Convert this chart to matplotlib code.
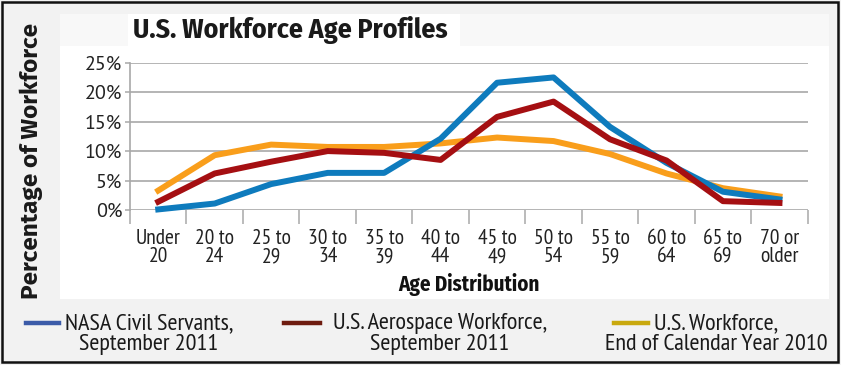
import matplotlib
matplotlib.use("Agg")
import matplotlib.pyplot as plt
from matplotlib.patches import Rectangle
from matplotlib.lines import Line2D
from matplotlib.ticker import FixedLocator

#DATA=======
categories = ["Under\n20", "20 to\n24", "25 to\n29", "30 to\n34", "35 to\n39", "40 to\n44",
              "45 to\n49", "50 to\n54", "55 to\n59", "60 to\n64", "65 to\n69", "70 or\nolder"]
nasa = [0.1, 1.1, 4.4, 6.3, 6.3, 12.1, 21.6, 22.5, 14.1, 8.0, 3.1, 1.8]
aero = [1.4, 6.2, 8.2, 10.0, 9.7, 8.5, 15.8, 18.4, 12.0, 8.4, 1.5, 1.2]
uswf = [3.3, 9.3, 11.1, 10.7, 10.7, 11.3, 12.3, 11.7, 9.5, 6.2, 3.7, 2.3]
yticks = [0, 5, 10, 15, 20, 25]
ytick_labels = ["0%", "5%", "10%", "15%", "20%", "25%"]
series_labels = ["NASA Civil Servants,\nSeptember 2011",
                 "U.S. Aerospace Workforce,\nSeptember 2011",
                 "U.S. Workforce,\nEnd of Calendar Year 2010"]
#===========

W, H = 841, 365
line_colors = ["#0e7bbd", "#a50f12", "#f99e1b"]
key_colors = ["#3b5ba8", "#6e1c10", "#c9a90e"]
grid_col = "#a8a8a8"
narrow = ["PT Sans Narrow", "DejaVu Sans"]
regular = ["PT Sans", "DejaVu Sans"]
bold_cond = ["Fira Sans Condensed", "DejaVu Sans"]
bold = ["Fira Sans", "DejaVu Sans"]


def fx(x):
    return x / W


def fy(y):
    return 1 - y / H


def box(x0, y0, x1, y1, **kw):
    r = Rectangle((fx(x0), fy(y1)), fx(x1) - fx(x0), fy(y0) - fy(y1),
                  transform=fig.transFigure, **kw)
    fig.patches.append(r)


fig = plt.figure(figsize=(W / 100, H / 100), dpi=100, facecolor="#f2f2f2")

# background panels
box(60, 46, 829, 299, facecolor="white", edgecolor="none", zorder=-3)
box(60, 14, 829, 46, facecolor="#f8f8f8", edgecolor="none", zorder=-3)
box(128, 14, 460, 46, facecolor="white", edgecolor="none", zorder=-2)
box(2, 2, 838, 362, facecolor="none", edgecolor="#111111", linewidth=1.8, zorder=5)

ax = fig.add_axes([fx(130), fy(210), fx(807.7) - fx(130), fy(62.7) - fy(210)])
ax.set_facecolor("none")

x = list(range(len(categories)))
ax.plot(x, uswf, color=line_colors[2], lw=4.3, clip_on=False, zorder=3)
ax.plot(x, nasa, color=line_colors[0], lw=4.3, clip_on=False, zorder=4)
ax.plot(x, aero, color=line_colors[1], lw=4.3, clip_on=False, zorder=5)

ax.set_xlim(-0.5, len(categories) - 0.5)
ax.set_ylim(0, 25)

ax.set_yticks(yticks)
ax.set_yticklabels(ytick_labels, fontfamily=regular, fontsize=14.5, color="#222222")
ax.tick_params(axis="y", direction="out", length=3.6, width=1.1, color=grid_col, pad=2)
ax.yaxis.grid(True, color=grid_col, lw=1.2)
ax.set_axisbelow(True)

ax.set_xticks(x)
ax.set_xticklabels(categories, fontfamily=narrow, fontsize=15.5, color="#222222", linespacing=0.92)
ax.tick_params(axis="x", which="major", length=0, pad=14)
ax.xaxis.set_minor_locator(FixedLocator([i - 0.5 for i in range(len(categories) + 1)]))
ax.tick_params(axis="x", which="minor", direction="out", length=10, width=1.1, color=grid_col)

for s in ["top", "right", "bottom"]:
    ax.spines[s].set_visible(False)
ax.spines["left"].set_color(grid_col)
ax.spines["left"].set_linewidth(1.2)

ax.set_xlabel("Age Distribution", fontfamily=bold_cond, fontweight="bold", fontsize=15,
              color="#111111", labelpad=5)

# title and y label
fig.text(fx(133), fy(30), "U.S. Workforce Age Profiles", fontfamily=bold_cond, fontweight="bold",
         fontsize=20, color="#1a1a1a", ha="left", va="center")
fig.text(fx(31), fy(161), "Percentage of Workforce", fontfamily=bold, fontweight="bold",
         fontsize=17.5, color="#1a1a1a", rotation=90, ha="center", va="center")

# legend
key_x = [(26, 59), (284, 320), (614, 648)]
text_cx = [149, 440, 716]
for i in range(3):
    fig.add_artist(Line2D([fx(key_x[i][0]), fx(key_x[i][1])], [fy(323), fy(323)],
                          transform=fig.transFigure, color=key_colors[i], lw=3.2))
    fig.text(fx(text_cx[i]), fy(334), series_labels[i], fontfamily=narrow, fontsize=17.5,
             color="#1a1a1a", ha="center", va="center", multialignment="center", linespacing=0.95)

fig.savefig("out.png", dpi=100, facecolor=fig.get_facecolor())
